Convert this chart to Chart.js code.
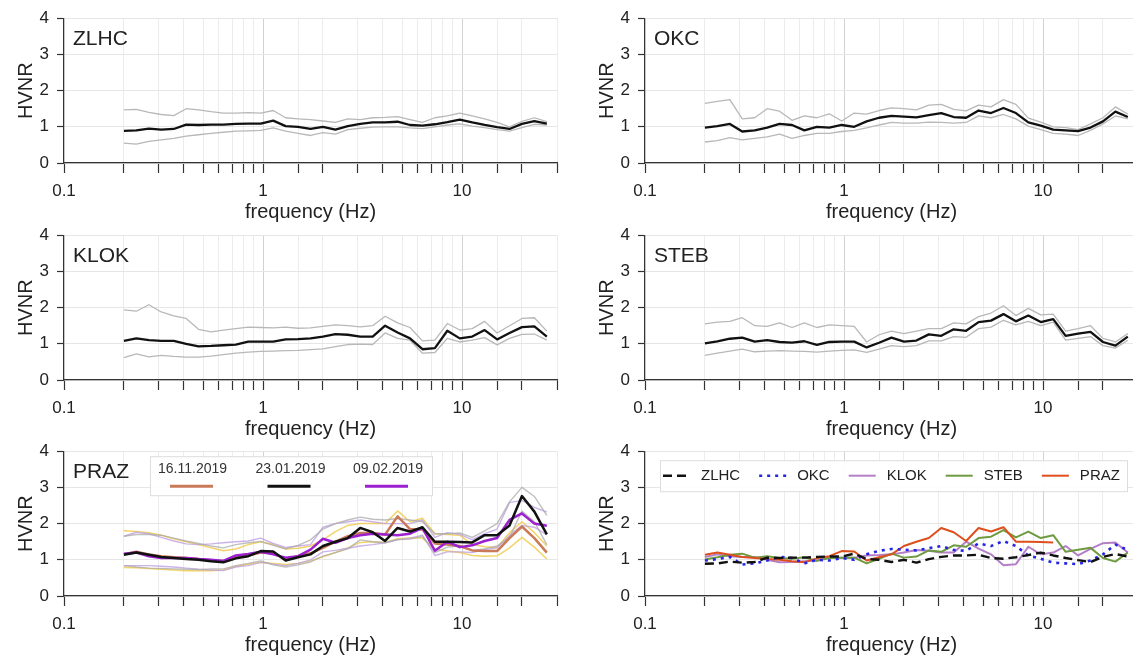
<!DOCTYPE html>
<html>
<head>
<meta charset="utf-8">
<title>HVNR</title>
<script src="https://cdn.jsdelivr.net/npm/chart.js@4.4.0/dist/chart.umd.min.js"></script>
<style>
  html, body { margin: 0; padding: 0; background: #fff; overflow: hidden; }
  body { width: 1133px; height: 657px; position: relative; }
  canvas { position: absolute; }
</style>
</head>
<body>
<canvas id="zlhc" width="570" height="230" style="left:0;top:0"></canvas>
<canvas id="okc" width="570" height="230" style="left:581px;top:0"></canvas>
<canvas id="klok" width="570" height="230" style="left:0;top:217px"></canvas>
<canvas id="steb" width="570" height="230" style="left:581px;top:217px"></canvas>
<canvas id="praz" width="570" height="230" style="left:0;top:433px"></canvas>
<canvas id="all" width="570" height="230" style="left:581px;top:433px"></canvas>
<script>
// frequencies (Hz), shared by every curve
const freq = [0.2, 0.231, 0.267, 0.308, 0.356, 0.411, 0.474, 0.548, 0.632, 0.730, 0.843, 0.974,
  1.125, 1.299, 1.5, 1.732, 2.0, 2.31, 2.667, 3.08, 3.557, 4.107, 4.743, 5.477, 6.325, 7.304,
  8.435, 9.74, 11.25, 12.99, 15.0, 17.32, 20.0, 23.09, 26.67];
const xTickLabels = [0.1, 1, 10];
const yTickLabels = [0, 1, 2, 3, 4];

// ZLHC
const zlhcMean = [0.89,0.90,0.95,0.92,0.94,1.06,1.05,1.06,1.06,1.08,1.09,1.09,1.17,1.02,1.00,0.94,1.00,0.92,1.02,1.08,1.12,1.12,1.14,1.05,1.03,1.07,1.13,1.20,1.12,1.05,0.99,0.94,1.08,1.16,1.09];
const zlhcUp   = [1.47,1.48,1.40,1.34,1.31,1.50,1.47,1.42,1.38,1.38,1.39,1.38,1.45,1.25,1.22,1.20,1.16,1.12,1.22,1.20,1.25,1.26,1.28,1.20,1.12,1.25,1.30,1.38,1.30,1.22,1.12,1.00,1.15,1.25,1.14];
const zlhcLo   = [0.55,0.52,0.60,0.64,0.68,0.74,0.78,0.82,0.85,0.88,0.89,0.90,0.97,0.88,0.82,0.76,0.84,0.80,0.92,0.96,0.99,1.00,1.00,0.97,0.95,1.00,1.05,1.08,1.02,0.98,0.92,0.88,0.98,1.07,1.05];

// OKC
const okcMean = [0.98,1.02,1.08,0.87,0.90,0.98,1.08,1.05,0.90,1.00,0.98,1.05,1.00,1.15,1.25,1.30,1.28,1.26,1.32,1.38,1.27,1.25,1.45,1.38,1.52,1.38,1.12,1.03,0.92,0.90,0.88,0.98,1.15,1.42,1.27];
const okcUp   = [1.65,1.70,1.75,1.22,1.25,1.50,1.43,1.18,1.30,1.25,1.36,1.16,1.38,1.35,1.45,1.52,1.50,1.47,1.60,1.62,1.48,1.44,1.60,1.55,1.75,1.62,1.24,1.13,1.00,0.98,0.92,1.08,1.25,1.55,1.35];
const okcLo   = [0.58,0.62,0.70,0.64,0.68,0.72,0.80,0.68,0.76,0.82,0.82,0.87,0.90,0.97,1.05,1.12,1.10,1.10,1.13,1.12,1.10,1.12,1.30,1.25,1.34,1.22,1.02,0.92,0.82,0.80,0.76,0.90,1.08,1.30,1.22];

// KLOK
const klokMean = [1.08,1.15,1.10,1.08,1.08,1.00,0.93,0.94,0.96,0.98,1.06,1.06,1.06,1.12,1.13,1.15,1.20,1.27,1.25,1.20,1.20,1.50,1.31,1.15,0.85,0.88,1.36,1.15,1.20,1.38,1.12,1.30,1.46,1.48,1.20];
const klokUp   = [1.94,1.90,2.08,1.88,1.77,1.70,1.40,1.33,1.38,1.42,1.46,1.45,1.44,1.46,1.43,1.44,1.48,1.52,1.50,1.47,1.50,1.76,1.58,1.45,1.08,1.10,1.56,1.38,1.42,1.62,1.30,1.50,1.70,1.72,1.35];
const klokLo   = [0.62,0.72,0.64,0.68,0.65,0.63,0.63,0.66,0.70,0.74,0.77,0.79,0.80,0.81,0.82,0.84,0.86,0.92,0.98,0.99,0.98,1.30,1.15,1.10,0.74,0.76,1.15,1.05,1.10,1.17,0.97,1.15,1.26,1.27,1.10];

// STEB
const stebMean = [1.01,1.07,1.14,1.17,1.06,1.10,1.05,1.03,1.07,0.97,1.05,1.06,1.06,0.90,1.03,1.17,1.06,1.09,1.26,1.22,1.40,1.36,1.60,1.64,1.82,1.62,1.78,1.60,1.68,1.22,1.28,1.33,1.05,0.95,1.20];
const stebUp   = [1.55,1.60,1.62,1.72,1.50,1.48,1.58,1.45,1.58,1.45,1.52,1.50,1.48,1.05,1.25,1.35,1.28,1.35,1.42,1.42,1.58,1.55,1.75,1.85,2.05,1.78,1.98,1.80,1.82,1.35,1.42,1.50,1.15,1.05,1.28];
const stebLo   = [0.68,0.74,0.80,0.85,0.78,0.80,0.81,0.80,0.79,0.77,0.80,0.82,0.83,0.76,0.85,0.95,0.92,0.95,1.08,1.08,1.20,1.18,1.42,1.46,1.65,1.52,1.62,1.50,1.60,1.10,1.15,1.20,0.95,0.88,1.10];

// PRAZ, three measurement dates
const prazDates = ['16.11.2019', '23.01.2019', '09.02.2019'];
const praz1Mean = [1.15,1.22,1.15,1.10,1.07,1.05,1.02,0.98,0.97,1.06,1.12,1.20,1.18,1.02,1.10,1.18,1.33,1.50,1.65,1.74,1.74,1.70,2.20,1.85,1.84,1.45,1.42,1.38,1.26,1.24,1.24,1.60,1.92,1.60,1.20];
const praz1Up   = [1.80,1.78,1.75,1.68,1.58,1.50,1.42,1.33,1.25,1.30,1.42,1.50,1.42,1.30,1.32,1.38,1.55,1.78,1.95,2.00,2.00,2.00,2.35,2.05,2.15,1.72,1.70,1.68,1.42,1.36,1.34,1.75,2.05,1.75,1.38];
const praz1Lo   = [0.79,0.78,0.76,0.74,0.72,0.70,0.70,0.70,0.72,0.82,0.88,0.93,0.90,0.87,0.90,0.97,1.08,1.20,1.33,1.48,1.50,1.48,1.58,1.60,1.60,1.30,1.24,1.20,1.12,1.10,1.11,1.33,1.62,1.35,1.02];
const praz2Mean = [1.14,1.20,1.14,1.08,1.05,1.02,1.00,0.96,0.93,1.04,1.10,1.24,1.23,0.98,1.07,1.15,1.38,1.50,1.60,1.88,1.76,1.52,1.88,1.78,1.90,1.50,1.50,1.49,1.48,1.68,1.68,1.95,2.76,2.33,1.70];
const praz2Up   = [1.65,1.70,1.70,1.68,1.60,1.52,1.45,1.38,1.33,1.42,1.47,1.51,1.40,1.30,1.40,1.55,1.85,2.00,2.10,2.18,2.12,2.10,2.14,2.10,2.05,1.72,1.72,1.74,1.62,1.80,2.00,2.60,3.00,2.75,2.23];
const praz2Lo   = [0.84,0.80,0.77,0.76,0.75,0.74,0.73,0.75,0.75,0.84,0.90,0.97,0.86,0.80,0.86,0.94,1.10,1.20,1.30,1.55,1.50,1.47,1.56,1.57,1.65,1.20,1.35,1.38,1.26,1.30,1.38,1.62,2.35,2.05,1.42];
const praz3Mean = [1.17,1.20,1.10,1.05,1.05,1.05,1.02,1.00,0.97,1.12,1.16,1.22,1.15,1.06,1.10,1.28,1.58,1.47,1.60,1.68,1.72,1.70,1.68,1.72,1.88,1.25,1.50,1.35,1.40,1.52,1.60,2.10,2.28,2.00,1.94];
const praz3Up   = [1.65,1.76,1.72,1.62,1.52,1.44,1.42,1.44,1.47,1.50,1.52,1.60,1.45,1.34,1.38,1.42,1.90,2.00,2.05,2.10,2.05,2.00,2.00,2.00,2.10,1.62,1.75,1.70,1.56,1.72,1.85,2.58,2.64,2.45,2.32];
const praz3Lo   = [0.84,0.84,0.84,0.82,0.80,0.77,0.74,0.72,0.70,0.80,0.84,0.93,0.88,0.84,0.90,1.00,1.22,1.26,1.32,1.38,1.42,1.47,1.55,1.60,1.68,1.12,1.22,1.22,1.20,1.28,1.33,1.68,1.95,1.90,1.69];

// comparison panel: PRAZ curve only shown up to ~11 Hz
const prazCompare = praz2Mean.slice(0, 29);

const FONT = '"Liberation Sans", Arial, sans-serif';
Chart.defaults.font.family = FONT;
Chart.defaults.color = '#222';

// station name in the upper left corner of the plot
const panelLabel = {
  id: 'panelLabel',
  afterDraw(chart, args, opts) {
    if (!opts.text) return;
    const { ctx, chartArea } = chart;
    ctx.save();
    ctx.font = '21px ' + FONT;
    ctx.fillStyle = '#222';
    ctx.textBaseline = 'alphabetic';
    ctx.fillText(opts.text, chartArea.left + 9, chartArea.top + 27);
    ctx.restore();
  }
};

// boxed legends drawn inside the plot area
const boxLegend = {
  id: 'boxLegend',
  afterDraw(chart, args, opts) {
    if (!opts.mode) return;
    const { ctx, chartArea } = chart;
    const items = chart.data.datasets
      .filter(d => d.legendIndex !== undefined)
      .sort((a, b) => a.legendIndex - b.legendIndex);
    const x0 = chartArea.left + opts.left;
    const y0 = chartArea.top + opts.top;
    ctx.save();
    ctx.fillStyle = 'rgba(255,255,255,0.92)';
    ctx.fillRect(x0, y0, opts.width, opts.height);
    ctx.strokeStyle = '#dddddd';
    ctx.lineWidth = 1;
    ctx.strokeRect(x0 + 0.5, y0 + 0.5, opts.width, opts.height);
    ctx.font = opts.fontSize + 'px ' + FONT;
    ctx.textBaseline = 'middle';
    if (opts.mode === 'stacked') {
      items.forEach((d, i) => {
        const tx = x0 + 8 + i * opts.step;
        ctx.fillStyle = '#333';
        ctx.fillText(d.label, tx, y0 + 13);
        ctx.strokeStyle = d.borderColor;
        ctx.lineWidth = 3;
        ctx.beginPath();
        ctx.moveTo(tx + 12, y0 + 30);
        ctx.lineTo(tx + 55, y0 + 30);
        ctx.stroke();
      });
    } else {
      let x = x0 + 3;
      const cy = y0 + opts.height / 2;
      items.forEach(d => {
        ctx.setLineDash(d.borderDash || []);
        ctx.strokeStyle = d.borderColor;
        ctx.lineWidth = d.borderWidth;
        ctx.beginPath();
        ctx.moveTo(x, cy);
        ctx.lineTo(x + 27, cy);
        ctx.stroke();
        ctx.setLineDash([]);
        x += 27 + 11;
        ctx.fillStyle = '#222';
        ctx.fillText(d.label, x, cy);
        x += ctx.measureText(d.label).width + 19;
      });
    }
    ctx.restore();
  }
};

function line(label, data, color, width, extra) {
  return Object.assign({
    label: label,
    data: data,
    borderColor: color,
    backgroundColor: color,
    borderWidth: width,
    pointRadius: 0,
    tension: 0,
    fill: false,
    borderJoinStyle: 'round'
  }, extra || {});
}

function isAt(v, list) {
  return list.some(m => Math.abs(v - m) < 1e-9);
}

function panelOptions(label, legend) {
  return {
    responsive: false,
    animation: false,
    events: [],
    layout: { padding: { top: 15, right: 13, left: 0, bottom: 0 } },
    plugins: {
      legend: { display: false },
      tooltip: { enabled: false },
      panelLabel: { text: label },
      boxLegend: legend || {}
    },
    scales: {
      x: {
        type: 'logarithmic',
        min: 0.1,
        max: 30,
        afterFit(scale) { scale.height = 67; },
        border: { display: true, color: '#333', width: 1.2 },
        grid: {
          color: ctx => (ctx.tick && isAt(ctx.tick.value, [1, 10])) ? '#d2d2d2' : '#ececec',
          lineWidth: 1,
          tickLength: 10,
          tickColor: '#333',
          tickWidth: 1.2
        },
        ticks: {
          autoSkip: false,
          maxRotation: 0,
          padding: 8,
          color: '#222',
          font: { size: 17 },
          callback: v => isAt(v, xTickLabels) ? String(v) : ''
        },
        title: { display: true, text: 'frequency (Hz)', color: '#222', font: { size: 20 }, padding: { top: 0, bottom: 6 } }
      },
      y: {
        min: 0,
        max: 4,
        afterFit(scale) { scale.width = 64; },
        border: { display: true, color: '#333', width: 1.2 },
        grid: { color: '#e6e6e6', lineWidth: 1, tickLength: 7, tickColor: '#333', tickWidth: 1.2 },
        ticks: {
          stepSize: 0.5,
          padding: 8,
          color: '#222',
          font: { size: 17 },
          callback: v => isAt(v, yTickLabels) ? String(v) : ''
        },
        title: { display: true, text: 'HVNR', color: '#222', font: { size: 20 }, padding: { top: 14, bottom: 0 } }
      }
    }
  };
}

const BOUND = '#b8b8b8';

function stationChart(id, name, mean, up, lo) {
  new Chart(document.getElementById(id), {
    type: 'line',
    data: {
      labels: freq,
      datasets: [
        line(name, mean, '#111', 2.3, { order: 0 }),
        line(name + ' +', up, BOUND, 1.3, { order: 1 }),
        line(name + ' -', lo, BOUND, 1.3, { order: 1 })
      ]
    },
    options: panelOptions(name),
    plugins: [panelLabel, boxLegend]
  });
}

stationChart('zlhc', 'ZLHC', zlhcMean, zlhcUp, zlhcLo);
stationChart('okc', 'OKC', okcMean, okcUp, okcLo);
stationChart('klok', 'KLOK', klokMean, klokUp, klokLo);
stationChart('steb', 'STEB', stebMean, stebUp, stebLo);

new Chart(document.getElementById('praz'), {
  type: 'line',
  data: {
    labels: freq,
    datasets: [
      line(prazDates[1], praz2Mean, '#111', 2.5, { order: 0, legendIndex: 1 }),
      line(prazDates[2], praz3Mean, '#9c1fd0', 2.5, { order: 1, legendIndex: 2 }),
      line(prazDates[0], praz1Mean, '#c97a58', 2.5, { order: 2, legendIndex: 0 }),
      line('grey +', praz2Up, 'rgba(170,170,170,0.75)', 1.4, { order: 3 }),
      line('grey -', praz2Lo, 'rgba(170,170,170,0.75)', 1.4, { order: 3 }),
      line('purple +', praz3Up, 'rgba(190,160,225,0.8)', 1.4, { order: 3 }),
      line('purple -', praz3Lo, 'rgba(190,160,225,0.8)', 1.4, { order: 3 }),
      line('yellow +', praz1Up, 'rgba(240,205,80,0.85)', 1.5, { order: 4 }),
      line('yellow -', praz1Lo, 'rgba(240,205,80,0.85)', 1.5, { order: 4 })
    ]
  },
  options: panelOptions('PRAZ', { mode: 'stacked', left: 86, top: 5, width: 282, height: 39, step: 97.5, fontSize: 14 }),
  plugins: [panelLabel, boxLegend]
});

new Chart(document.getElementById('all'), {
  type: 'line',
  data: {
    labels: freq,
    datasets: [
      line('ZLHC', zlhcMean, '#111', 2.4, { order: 0, legendIndex: 0, borderDash: [9, 5] }),
      line('OKC', okcMean, '#2525e6', 2.6, { order: 1, legendIndex: 1, borderDash: [3, 5] }),
      line('PRAZ', prazCompare, '#de4f1d', 2, { order: 2, legendIndex: 4 }),
      line('STEB', stebMean, '#6e9b40', 2, { order: 3, legendIndex: 3 }),
      line('KLOK', klokMean, '#b47fc8', 2, { order: 4, legendIndex: 2 })
    ]
  },
  options: panelOptions('', { mode: 'row', left: 15, top: 9, width: 467, height: 31, fontSize: 15 }),
  plugins: [panelLabel, boxLegend]
});
</script>
</body>
</html>
